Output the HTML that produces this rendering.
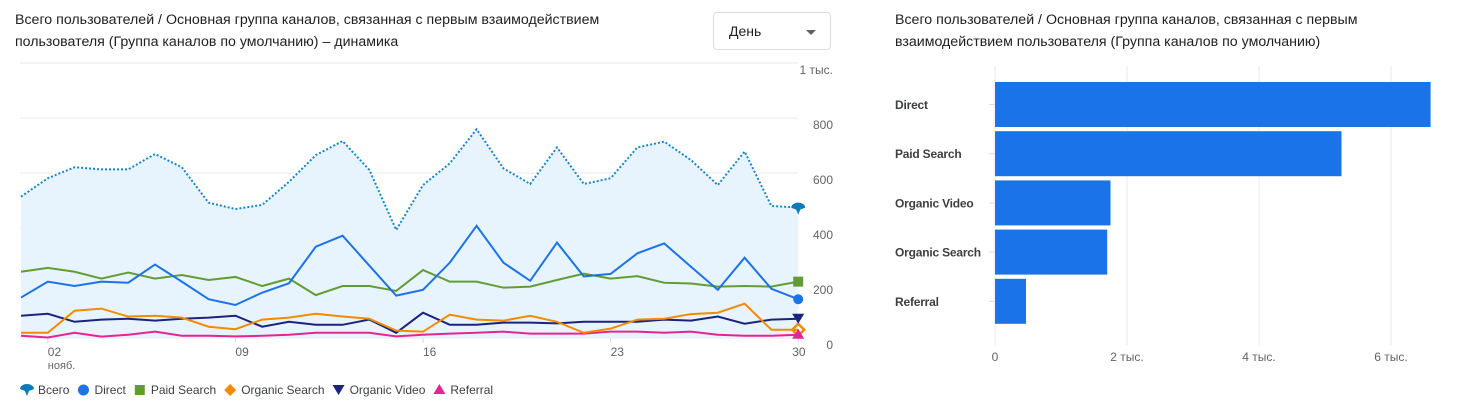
<!DOCTYPE html>
<html><head><meta charset="utf-8"><style>
body{margin:0;width:1471px;height:413px;background:#fff;font-family:"Liberation Sans",sans-serif;overflow:hidden;position:relative;color:#3c4043}
.t{position:absolute;font-size:14.2px;line-height:22px;color:#202124}
.dd{position:absolute;left:713px;top:12px;width:118px;height:38px;border:1px solid #dadce0;border-radius:4px;box-sizing:border-box;font-size:14px;line-height:36px;padding-left:15px;color:#202124}
.dd:after{content:"";position:absolute;right:14px;top:17px;border-left:5px solid transparent;border-right:5px solid transparent;border-top:5px solid #5f6368}
svg{position:absolute;left:0;top:0}
text{font-family:"Liberation Sans",sans-serif}
</style></head><body>
<div class="t" style="left:15px;top:9px;width:640px">Всего пользователей / Основная группа каналов, связанная с первым взаимодействием<br>пользователя (Группа каналов по умолчанию) – динамика</div>
<div class="dd">День</div>
<div class="t" style="left:895px;top:9px;width:560px">Всего пользователей / Основная группа каналов, связанная с первым<br>взаимодействием пользователя (Группа каналов по умолчанию)</div>
<svg id="s" width="1471" height="413"></svg>
<script>
const days=[1,2,3,4,5,6,7,8,9,10,11,12,13,14,15,16,17,18,19,20,21,22,23,24,25,26,27,28,29,30];
const total=[514,581,621,613,613,669,621,492,469,484,568,665,716,611,393,556,635,759,617,560,693,560,581,693,714,647,556,678,480,474];
const direct=[147,205,189,205,201,267,205,141,120,165,199,332,372,263,154,175,274,408,274,208,347,224,233,308,344,259,175,292,179,141];
const paid=[241,255,241,216,238,216,229,211,222,189,216,156,189,189,171,247,205,205,183,187,211,234,216,225,201,198,187,189,187,205];
const orgSearch=[19,19,99,107,78,81,74,41,32,67,74,88,78,70,27,23,85,67,63,81,59,19,34,67,70,87,92,125,30,30];
const orgVideo=[81,88,59,67,70,63,70,74,81,41,59,48,48,67,19,92,48,48,56,56,53,59,59,59,67,63,78,52,67,70];
const referral=[8,2,19,5,12,23,8,8,6,8,12,19,19,19,6,12,16,19,23,16,16,16,23,23,19,23,12,8,8,12];
const yTicks=[0,200,400,600,800,1000];
const yTickLabels=["0","200","400","600","800","1 тыс."];
const xTicks=[2,9,16,23,30];
const xTickLabels=["02","09","16","23","30"];
const barCats=["Direct","Paid Search","Organic Video","Organic Search","Referral"];
const barVals=[6600,5250,1750,1700,470];
const barTicks=[0,2000,4000,6000];
const barTickLabels=["0","2 тыс.","4 тыс.","6 тыс."];

const NS="http://www.w3.org/2000/svg",S=document.getElementById('s');
function el(t,a,txt){const e=document.createElementNS(NS,t);for(const k in a)e.setAttribute(k,a[k]);if(txt!==undefined)e.textContent=txt;S.appendChild(e);return e;}
const X=d=>21+(d-1)*26.8, Y=v=>338-v*0.275;
yTicks.forEach((v,i)=>{
 let g=el('line',{x1:20,x2:798,y1:Y(v),y2:Y(v),stroke:'#e8eaed'});
 
 let t=el('text',{x:833,y:Y(v)+11,'text-anchor':'end','font-size':12,fill:'#5f6368'},yTickLabels[i]);
 
});
xTicks.forEach((d,i)=>{
 let l=el('line',{x1:X(d),x2:X(d),y1:338,y2:343,stroke:'#dadce0'});
 
 let t=el('text',{x:X(d)+(i==4?-6:0),y:356,'font-size':12,fill:'#5f6368'},xTickLabels[i]);
 
});
let mt=el('text',{x:X(2),y:369,'font-size':11,fill:'#5f6368'},'нояб.');

const pts=a=>a.map((v,i)=>X(days[i])+','+Y(v)).join(' ');
let area=el('polygon',{points:X(1)+','+Y(0)+' '+pts(total)+' '+X(30)+','+Y(0),fill:'#e8f4fd'});

const series=[[referral,'#e52592','referral-line'],[orgVideo,'#1a237e','organic-video-line'],[orgSearch,'#f28b00','organic-search-line'],[paid,'#639c37','paid-search-line'],[direct,'#1a73e8','direct-line']];
series.forEach(s=>{let p=el('polyline',{points:pts(s[0]),fill:'none',stroke:s[1],'stroke-width':2});});
let tl=el('polyline',{points:pts(total),fill:'none',stroke:'#1a86c7','stroke-width':2,'stroke-dasharray':'2 2'});

const ex=X(30);
function mk(shape,name){}
mk(el('path',{d:`M${ex-7},${Y(total[29])} a7,5 0 0 1 14,0 l-5,2 l-2,5 l-2,-5 z`,fill:'#0a7ab8'}),'total-end-marker');
mk(el('circle',{cx:ex,cy:Y(direct[29]),r:5,fill:'#1a73e8'}),'direct-end-marker');
mk(el('rect',{x:ex-5,y:Y(paid[29])-5,width:10,height:10,fill:'#639c37'}),'paid-end-marker');
mk(el('path',{d:`M${ex},${Y(orgSearch[29])-6} l6,6 l-6,6 l-6,-6z`,fill:'none',stroke:'#f28b00','stroke-width':2.5}),'organic-search-end-marker');
mk(el('path',{d:`M${ex-6},${Y(orgVideo[29])-5} h12 l-6,10z`,fill:'#1a237e'}),'organic-video-end-marker');
mk(el('path',{d:`M${ex},${Y(referral[29])-6} l6,10 h-12z`,fill:'#e52592'}),'referral-end-marker');
const leg=[['Всего','#0a7ab8','t'],['Direct','#1a73e8','c'],['Paid Search','#639c37','s'],['Organic Search','#f28b00','d'],['Organic Video','#1a237e','v'],['Referral','#e52592','u']];
let lx=20;const ly=390;
leg.forEach(l=>{
 let m,c=l[1],x=lx+7;
 if(l[2]=='t')m=el('path',{d:`M${x-7},${ly-1} a7,5 0 0 1 14,0 l-5,2 l-2,5 l-2,-5z`,fill:c});
 if(l[2]=='c')m=el('circle',{cx:x,cy:ly,r:5.5,fill:c});
 if(l[2]=='s')m=el('rect',{x:x-5,y:ly-5,width:10,height:10,fill:c});
 if(l[2]=='d')m=el('path',{d:`M${x},${ly-6} l6,6 l-6,6 l-6,-6z`,fill:c});
 if(l[2]=='v')m=el('path',{d:`M${x-6},${ly-5} h12 l-6,10z`,fill:c});
 if(l[2]=='u')m=el('path',{d:`M${x},${ly-6} l6,10 h-12z`,fill:c});
 
 let t=el('text',{x:lx+18,y:ly+4,'font-size':12,fill:'#3c4043'},l[0]);
 
 lx+=18+t.getComputedTextLength()+7;
});
const BX=v=>995+v*0.066;
barTicks.forEach((v,i)=>{
 let g=el('line',{x1:BX(v),x2:BX(v),y1:66,y2:345,stroke:'#e8eaed','stroke-width':1});
 
 let t=el('text',{x:BX(v),y:361,'text-anchor':'middle','font-size':12,fill:'#5f6368'},barTickLabels[i]);
 
});
barCats.forEach((c,i)=>{
 const y0=82+i*49.2;
 let r=el('rect',{x:BX(0),y:y0,width:BX(barVals[i])-BX(0),height:45,fill:'#1a73e8'});
 
 let tk=el('line',{x1:989,x2:995,y1:y0+22.5,y2:y0+22.5,stroke:'#dadce0'});
 
 let t=el('text',{x:895,y:y0+27,'font-size':12,'font-weight':'bold',fill:'#3c4043','letter-spacing':'-0.2'},c);
 
});
</script>
</body></html>
